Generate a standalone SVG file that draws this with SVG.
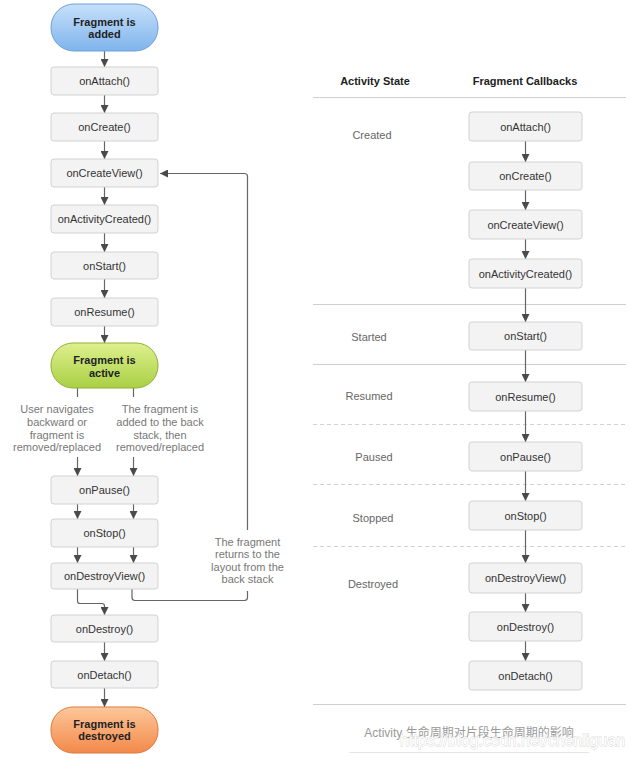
<svg xmlns="http://www.w3.org/2000/svg" width="631" height="758" viewBox="0 0 631 758">
<defs>
<linearGradient id="gBlue" x1="0" y1="0" x2="0" y2="1"><stop offset="0" stop-color="#c6e0fa"/><stop offset="1" stop-color="#7fb4ec"/></linearGradient>
<linearGradient id="gGreen" x1="0" y1="0" x2="0" y2="1"><stop offset="0" stop-color="#def08e"/><stop offset="1" stop-color="#a9d044"/></linearGradient>
<linearGradient id="gOrange" x1="0" y1="0" x2="0" y2="1"><stop offset="0" stop-color="#fdc79a"/><stop offset="1" stop-color="#f3894a"/></linearGradient>
<marker id="ah" markerUnits="userSpaceOnUse" markerWidth="8" markerHeight="8" refX="8" refY="4" orient="auto"><path d="M0,0 L8,4 L0,8 z" fill="#4a4a4a"/></marker>
</defs>
<style>
.box{fill:#f3f3f3;stroke:#d2d2d2;stroke-width:1}
.t{font-family:"Liberation Sans",Arial,sans-serif;font-size:11px;fill:#333;text-anchor:middle}
.b{font-family:"Liberation Sans",Arial,sans-serif;font-size:11px;font-weight:bold;fill:#222;text-anchor:middle}
.g{font-family:"Liberation Sans",Arial,sans-serif;font-size:11px;fill:#777;text-anchor:middle}
.s{font-family:"Liberation Sans",Arial,sans-serif;font-size:11px;fill:#666;text-anchor:middle}
.c{fill:none;stroke:#666;stroke-width:1.2}
.a{fill:none;stroke:#666;stroke-width:1.2;marker-end:url(#ah)}
.hl{stroke:#cfcfcf;stroke-width:1}
.dl{stroke:#d2d2d2;stroke-width:1;stroke-dasharray:4 3}
</style>
<rect width="631" height="758" fill="#fff"/>

<g id="right-grid">
<line class="hl" x1="313" y1="97.5" x2="626" y2="97.5"/>
<line class="hl" x1="313" y1="304.5" x2="626" y2="304.5"/>
<line class="hl" x1="313" y1="364.5" x2="626" y2="364.5"/>
<line class="dl" x1="313" y1="424.5" x2="626" y2="424.5"/>
<line class="dl" x1="313" y1="484.5" x2="626" y2="484.5"/>
<line class="dl" x1="313" y1="546.5" x2="626" y2="546.5"/>
<line class="hl" x1="313" y1="704.5" x2="626" y2="704.5"/>
<line stroke="#e6e6e6" stroke-width="1" x1="349" y1="752.5" x2="589" y2="752.5"/>
<text class="b" x="375" y="84.5" fill="#333">Activity State</text>
<text class="b" x="525" y="84.5" fill="#333">Fragment Callbacks</text>
<text class="s" x="372" y="139">Created</text>
<text class="s" x="369" y="341">Started</text>
<text class="s" x="369" y="400">Resumed</text>
<text class="s" x="374" y="461">Paused</text>
<text class="s" x="373" y="522">Stopped</text>
<text class="s" x="373" y="588">Destroyed</text>
</g>

<g id="connectors">
<line class="a" x1="104.5" y1="51" x2="104.5" y2="67"/>
<line class="a" x1="104.5" y1="95" x2="104.5" y2="113"/>
<line class="a" x1="104.5" y1="141" x2="104.5" y2="159"/>
<line class="a" x1="104.5" y1="187" x2="104.5" y2="205"/>
<line class="a" x1="104.5" y1="233" x2="104.5" y2="252"/>
<line class="a" x1="104.5" y1="279" x2="104.5" y2="298"/>
<line class="a" x1="104.5" y1="326" x2="104.5" y2="343"/>
<line class="c" x1="77.5" y1="388" x2="77.5" y2="397"/>
<line class="c" x1="133.5" y1="388" x2="133.5" y2="397"/>
<line class="a" x1="77.5" y1="457" x2="77.5" y2="476"/>
<line class="a" x1="133.5" y1="457" x2="133.5" y2="476"/>
<line class="a" x1="77.5" y1="504" x2="77.5" y2="519"/>
<line class="a" x1="133.5" y1="504" x2="133.5" y2="519"/>
<line class="a" x1="77.5" y1="547" x2="77.5" y2="563"/>
<line class="a" x1="133.5" y1="547" x2="133.5" y2="563"/>
<path class="a" d="M77.5,589 V601 Q77.5,603.5 80,603.5 H102 Q104.5,603.5 104.5,606 V615"/>
<path class="a" d="M132,589 V597.5 Q132,600.5 135,600.5 H244.5 Q247.5,600.5 247.5,597.5 V176.5 Q247.5,173.5 244.5,173.5 H160"/>
<line class="a" x1="104.5" y1="642" x2="104.5" y2="661"/>
<line class="a" x1="104.5" y1="688" x2="104.5" y2="707"/>

<line class="a" x1="525.5" y1="141" x2="525.5" y2="162"/>
<line class="a" x1="525.5" y1="190" x2="525.5" y2="210"/>
<line class="a" x1="525.5" y1="239" x2="525.5" y2="259"/>
<line class="a" x1="525.5" y1="288" x2="525.5" y2="322"/>
<line class="a" x1="525.5" y1="350" x2="525.5" y2="382"/>
<line class="a" x1="525.5" y1="411" x2="525.5" y2="442"/>
<line class="a" x1="525.5" y1="471" x2="525.5" y2="501"/>
<line class="a" x1="525.5" y1="530" x2="525.5" y2="563"/>
<line class="a" x1="525.5" y1="593" x2="525.5" y2="612"/>
<line class="a" x1="525.5" y1="641" x2="525.5" y2="661"/>
</g>

<g id="fragment-added"><rect x="51" y="4" width="107" height="47" rx="23" fill="url(#gBlue)" stroke="#6f9fd6"/><text class="b" x="104.5" y="25.5">Fragment is</text><text class="b" x="104.5" y="38">added</text></g>
<g id="l-onAttach"><rect class="box" x="51" y="67" width="107" height="28" rx="3"/><text class="t" x="104.5" y="85">onAttach()</text></g>
<g id="l-onCreate"><rect class="box" x="51" y="113" width="107" height="28" rx="3"/><text class="t" x="104.5" y="131">onCreate()</text></g>
<g id="l-onCreateView"><rect class="box" x="51" y="159" width="107" height="28" rx="3"/><text class="t" x="104.5" y="177">onCreateView()</text></g>
<g id="l-onActivityCreated"><rect class="box" x="51" y="205" width="107" height="28" rx="3"/><text class="t" x="104.5" y="223">onActivityCreated()</text></g>
<g id="l-onStart"><rect class="box" x="51" y="252" width="107" height="27" rx="3"/><text class="t" x="104.5" y="269.5">onStart()</text></g>
<g id="l-onResume"><rect class="box" x="51" y="298" width="107" height="28" rx="3"/><text class="t" x="104.5" y="316">onResume()</text></g>
<g id="fragment-active"><rect x="51" y="343" width="107" height="45" rx="22" fill="url(#gGreen)" stroke="#8db236"/><text class="b" x="104.5" y="364">Fragment is</text><text class="b" x="104.5" y="376.5">active</text></g>
<g id="label-back"><text class="g" x="57" y="413">User navigates</text><text class="g" x="57" y="426">backward or</text><text class="g" x="57" y="438.5">fragment is</text><text class="g" x="57" y="451">removed/replaced</text></g>
<g id="label-stack"><text class="g" x="160" y="413">The fragment is</text><text class="g" x="160" y="426">added to the back</text><text class="g" x="160" y="438.5">stack, then</text><text class="g" x="160" y="451">removed/replaced</text></g>
<g id="l-onPause"><rect class="box" x="51" y="476" width="107" height="28" rx="3"/><text class="t" x="104.5" y="494">onPause()</text></g>
<g id="l-onStop"><rect class="box" x="51" y="519" width="107" height="28" rx="3"/><text class="t" x="104.5" y="537">onStop()</text></g>
<g id="l-onDestroyView"><rect class="box" x="51" y="563" width="107" height="26" rx="3"/><text class="t" x="104.5" y="580">onDestroyView()</text></g>
<g id="label-return"><rect x="205" y="530" width="85" height="61" fill="#fff"/><text class="g" x="247.5" y="545.5">The fragment</text><text class="g" x="247.5" y="558">returns to the</text><text class="g" x="247.5" y="570.5">layout from the</text><text class="g" x="247.5" y="583">back stack</text></g>
<g id="l-onDestroy"><rect class="box" x="51" y="615" width="107" height="27" rx="3"/><text class="t" x="104.5" y="632.5">onDestroy()</text></g>
<g id="l-onDetach"><rect class="box" x="51" y="661" width="107" height="27" rx="3"/><text class="t" x="104.5" y="678.5">onDetach()</text></g>
<g id="fragment-destroyed"><rect x="51" y="707" width="107" height="46" rx="22" fill="url(#gOrange)" stroke="#dc7b3c"/><text class="b" x="104.5" y="727.5">Fragment is</text><text class="b" x="104.5" y="740">destroyed</text></g>

<g id="r-onAttach"><rect class="box" x="469" y="112" width="113" height="29" rx="3"/><text class="t" x="525.5" y="130.5">onAttach()</text></g>
<g id="r-onCreate"><rect class="box" x="469" y="162" width="113" height="28" rx="3"/><text class="t" x="525.5" y="180">onCreate()</text></g>
<g id="r-onCreateView"><rect class="box" x="469" y="210" width="113" height="29" rx="3"/><text class="t" x="525.5" y="228.5">onCreateView()</text></g>
<g id="r-onActivityCreated"><rect class="box" x="469" y="259" width="113" height="29" rx="3"/><text class="t" x="525.5" y="277.5">onActivityCreated()</text></g>
<g id="r-onStart"><rect class="box" x="469" y="322" width="113" height="28" rx="3"/><text class="t" x="525.5" y="340">onStart()</text></g>
<g id="r-onResume"><rect class="box" x="469" y="382" width="113" height="29" rx="3"/><text class="t" x="525.5" y="400.5">onResume()</text></g>
<g id="r-onPause"><rect class="box" x="469" y="442" width="113" height="29" rx="3"/><text class="t" x="525.5" y="460.5">onPause()</text></g>
<g id="r-onStop"><rect class="box" x="469" y="501" width="113" height="29" rx="3"/><text class="t" x="525.5" y="519.5">onStop()</text></g>
<g id="r-onDestroyView"><rect class="box" x="469" y="563" width="113" height="30" rx="3"/><text class="t" x="525.5" y="582">onDestroyView()</text></g>
<g id="r-onDestroy"><rect class="box" x="469" y="612" width="113" height="29" rx="3"/><text class="t" x="525.5" y="630.5">onDestroy()</text></g>
<g id="r-onDetach"><rect class="box" x="469" y="661" width="113" height="29" rx="3"/><text class="t" x="525.5" y="679.5">onDetach()</text></g>

<g id="caption">
<text x="469" y="737" font-family="'Liberation Sans','Noto Sans CJK SC',sans-serif" font-size="12" fill="#999" text-anchor="middle">Activity 生命周期对片段生命周期的影响</text>
<text x="400" y="745.5" font-family="'Liberation Sans',Arial,sans-serif" font-size="16" fill="#fff" stroke="#cfcfcf" stroke-width="0.8" paint-order="stroke" opacity="0.9">https://blog.csdn.net/chenliguan</text>
</g>
</svg>
